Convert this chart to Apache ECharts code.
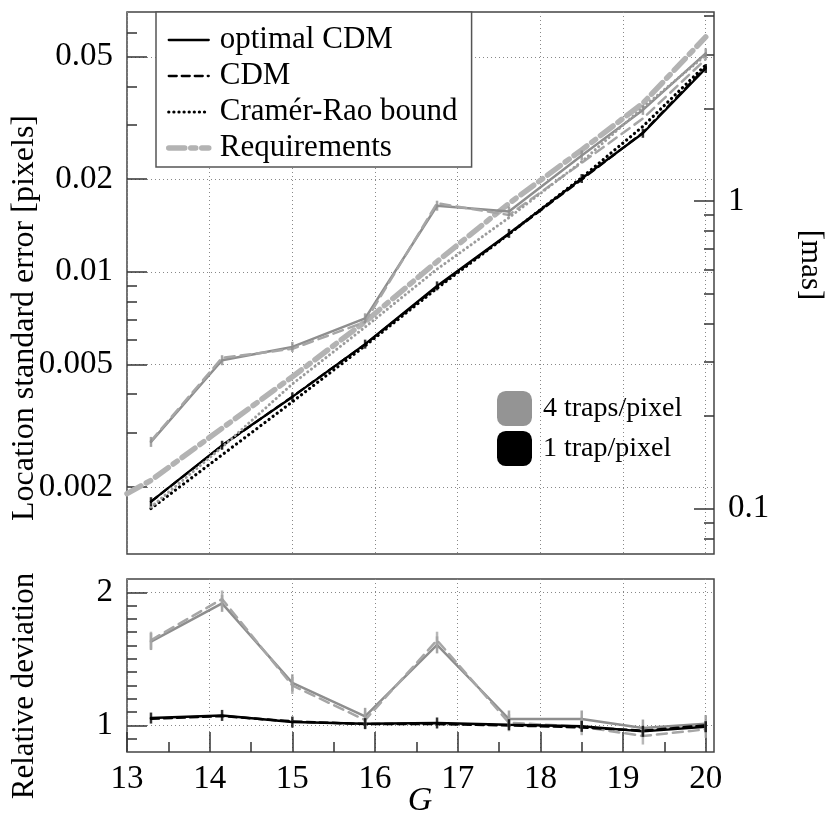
<!DOCTYPE html>
<html>
<head>
<meta charset="utf-8">
<script src="https://cdn.jsdelivr.net/npm/echarts@6/dist/echarts.min.js"></script>
<style>
html, body { margin: 0; padding: 0; background: #fff; }
#main { width: 830px; height: 828px; }
</style>
</head>
<body>
<div id="main"></div>
<script>
// magnitudes G
var G = [13.29, 14.15, 15.0, 15.88, 16.75, 17.62, 18.5, 19.24, 20.0];

// location standard error [pixels], 1 trap/pixel
var optCdm1 = [0.00179, 0.00273, 0.00392, 0.00582, 0.0090, 0.01333, 0.0201, 0.0282, 0.0458];
var cdm1    = [0.00179, 0.00272, 0.00393, 0.00581, 0.00893, 0.01326, 0.01994, 0.02835, 0.04626];
var crb1    = [0.00170, 0.00254, 0.00378, 0.00575, 0.00884, 0.01326, 0.02024, 0.02970, 0.04700];
// 4 traps/pixel
var optCdm4 = [0.0028, 0.00516, 0.0057, 0.00706, 0.0164, 0.0157, 0.0239, 0.0336, 0.0513];
var cdm4    = [0.00282, 0.00525, 0.00562, 0.00687, 0.0167, 0.0153, 0.0226, 0.0315, 0.0491];
var crb4    = [0.00172, 0.00269, 0.00432, 0.00661, 0.0102, 0.0150, 0.0228, 0.0342, 0.0506];
// requirements
var reqG   = [13.0, 13.29, 14.15, 15.0, 15.88, 16.75, 17.62, 18.5, 19.24, 20.0];
var reqVal = [0.0019, 0.0021, 0.0031, 0.00456, 0.00688, 0.0108, 0.01668, 0.0249, 0.0353, 0.058];

// relative deviation
var relOpt4 = [1.63, 1.917, 1.32, 1.068, 1.605, 1.048, 1.048, 0.98, 1.013];
var relCdm4 = [1.64, 1.95, 1.30, 1.04, 1.64, 1.02, 0.99, 0.92, 0.97];
var relOpt1 = [1.055, 1.075, 1.025, 1.013, 1.018, 1.005, 0.993, 0.955, 0.99];
var relCdm1 = [1.05, 1.07, 1.03, 1.01, 1.01, 1.0, 0.985, 0.96, 1.0];

// tick values
var xTicks = [13, 14, 15, 16, 17, 18, 19, 20];
var xMinor = [13.5, 14.5, 15.5, 16.5, 17.5, 18.5, 19.5];
var pxTicks = [0.002, 0.005, 0.01, 0.02, 0.05];
var pxMinor = [0.003, 0.004, 0.006, 0.007, 0.008, 0.009, 0.03, 0.04, 0.06];
var masTicks = [0.1, 1];
var masMinor = [0.08, 0.09, 0.2, 0.3, 0.4, 0.5, 0.6, 0.7, 0.8, 0.9, 2, 3, 4];
var relTicks = [1, 2];
var relMinor = [0.9, 1.1, 1.2, 1.3, 1.4, 1.5, 1.6, 1.7, 1.8, 1.9];

var MAS_PER_PX = 58.9;
var Y_MIN = Math.log10(0.00121), Y_MAX = Math.log10(0.0699);
var FONT = 'Liberation Serif';

function lg(arr) { return arr.map(function (v) { return Math.log10(v); }); }
function pts(xs, ys) { return xs.map(function (x, i) { return [x, ys[i]]; }); }
function fmtLog(v) { return String(+Math.pow(10, v).toPrecision(1)); }
function fmtMas(v) { return String(+(Math.pow(10, v) * MAS_PER_PX).toPrecision(1)); }
function masPos(arr) { return arr.map(function (m) { return Math.log10(m / MAS_PER_PX); }); }

var BLACK = '#000', GREY = '#8e8e8e', GREY_D = '#a6a6a6', GREY_DOT = '#9c9c9c', REQ = '#b3b3b3';
var dotted = [0.1, 5];
var gridLine = { show: true, lineStyle: { color: '#888', width: 1, type: [1, 3] } };
var tickStyle = { color: '#333', width: 1.5 };

function yAx(grid, pos, min, max, ticks, len, labels, fmt, split) {
  return {
    type: 'value', gridIndex: grid, position: pos, min: min, max: max,
    axisLine: { show: false },
    axisTick: { show: true, inside: true, length: len, lineStyle: tickStyle, customValues: ticks },
    axisLabel: labels ? { show: true, customValues: ticks, formatter: fmt, margin: 14,
      fontFamily: FONT, fontSize: 33, color: '#000' } : { show: false },
    splitLine: split ? gridLine : { show: false }
  };
}
function xAx(grid, ticks, len, labels, split, showTick) {
  return {
    type: 'value', gridIndex: grid, position: 'bottom', min: 13, max: 20.1,
    axisLine: { show: false },
    axisTick: { show: showTick, inside: true, length: len, lineStyle: tickStyle, customValues: ticks },
    axisLabel: labels ? { show: true, customValues: ticks, margin: 11,
      fontFamily: FONT, fontSize: 33, color: '#000' } : { show: false },
    splitLine: split ? gridLine : { show: false }
  };
}

function line(name, xi, yi, data, color, width, type) {
  return {
    name: name, type: 'line', xAxisIndex: xi, yAxisIndex: yi, data: data,
    symbol: 'none', lineStyle: { color: color, width: width, type: type, cap: 'round' },
    itemStyle: { color: color }, z: 3
  };
}
function errBars(xi, yi, data, color, h) {
  return {
    name: 'err', type: 'scatter', xAxisIndex: xi, yAxisIndex: yi, data: data,
    symbol: 'rect', symbolSize: [2.5, h], itemStyle: { color: color }, z: 4
  };
}

var chart = echarts.init(document.getElementById('main'), null, { renderer: 'canvas' });
var option = {
  animation: false,
  backgroundColor: '#fff',
  grid: [
    { left: 127, top: 12, width: 587, height: 542, show: true, borderColor: '#444', borderWidth: 1.5, backgroundColor: 'transparent' },
    { left: 127, top: 579, width: 587, height: 173, show: true, borderColor: '#444', borderWidth: 1.5, backgroundColor: 'transparent' }
  ],
  xAxis: [
    xAx(0, xTicks, 0, false, true, false),
    xAx(1, xTicks, 20, true, true, true),
    xAx(1, xMinor, 10, false, false, true)
  ],
  yAxis: [
    yAx(0, 'left', Y_MIN, Y_MAX, lg(pxTicks), 20, true, fmtLog, true),
    yAx(0, 'left', Y_MIN, Y_MAX, lg(pxMinor), 10, false, null, false),
    yAx(0, 'right', Y_MIN, Y_MAX, masPos(masTicks), 20, true, fmtMas, false),
    yAx(0, 'right', Y_MIN, Y_MAX, masPos(masMinor), 10, false, null, false),
    yAx(1, 'left', 0.8, 2.1, relTicks, 20, true, function (v) { return String(v); }, true),
    yAx(1, 'left', 0.8, 2.1, relMinor, 10, false, null, false)
  ],
  legend: [
    {
      orient: 'vertical', left: 156, top: 12,
      data: ['optimal CDM', 'CDM', 'Cramér-Rao bound', 'Requirements'],
      itemWidth: 40, itemHeight: 14, itemGap: 4,
      padding: [12, 14, 3, 10],
      backgroundColor: '#fff', borderColor: '#555', borderWidth: 1.5, borderRadius: 0,
      itemStyle: { opacity: 0 },
      lineStyle: { width: 'inherit' },
      textStyle: { fontFamily: FONT, fontSize: 31, color: '#000', lineHeight: 32, padding: [0, 0, 0, 6] },
      selectedMode: false
    },
    {
      orient: 'vertical', left: 492, top: 386,
      data: ['4 traps/pixel', '1 trap/pixel'],
      icon: 'roundRect', itemWidth: 35, itemHeight: 35, itemGap: 5,
      textStyle: { fontFamily: FONT, fontSize: 28, color: '#000', padding: [0, 0, 0, 6] },
      selectedMode: false
    }
  ],
  graphic: [
    { type: 'text', x: 25, y: 318, rotation: Math.PI / 2,
      style: { text: 'Location standard error [pixels]', fontFamily: FONT, fontSize: 32, fill: '#000', align: 'center', verticalAlign: 'middle' } },
    { type: 'text', x: 25, y: 686, rotation: Math.PI / 2,
      style: { text: 'Relative deviation', fontFamily: FONT, fontSize: 31, fill: '#000', align: 'center', verticalAlign: 'middle' } },
    { type: 'text', x: 810, y: 265, rotation: -Math.PI / 2,
      style: { text: '[mas]', fontFamily: FONT, fontSize: 31, fill: '#000', align: 'center', verticalAlign: 'middle' } },
    { type: 'text', x: 420, y: 801,
      style: { text: 'G', fontFamily: FONT, fontStyle: 'italic', fontSize: 34, fill: '#000', align: 'center', verticalAlign: 'middle' } }
  ],
  series: [
    // top panel
    line('Requirements', 0, 0, pts(reqG, lg(reqVal)), REQ, 5.5, [16, 6, 5, 6]),
    line('optimal CDM', 0, 0, pts(G, lg(optCdm1)), BLACK, 2.3, 'solid'),
    line('CDM', 0, 0, pts(G, lg(cdm1)), BLACK, 2.3, [8, 5]),
    line('Cramér-Rao bound', 0, 0, pts(G, lg(crb1)), BLACK, 3.2, dotted),
    line('optimal CDM 4', 0, 0, pts(G, lg(optCdm4)), GREY, 2.5, 'solid'),
    line('CDM 4', 0, 0, pts(G, lg(cdm4)), GREY_D, 2.5, [10, 6]),
    line('Cramér-Rao bound 4', 0, 0, pts(G, lg(crb4)), GREY_DOT, 3, [0.1, 4.5]),
    errBars(0, 0, pts(G, lg(optCdm4)), GREY, 10),
    errBars(0, 0, pts(G, lg(optCdm1)), BLACK, 9),
    // bottom panel
    line('optimal CDM 4b', 1, 4, pts(G, relOpt4), GREY, 2.5, 'solid'),
    line('CDM 4b', 1, 4, pts(G, relCdm4), GREY_D, 2.5, [10, 6]),
    line('optimal CDM 1b', 1, 4, pts(G, relOpt1), BLACK, 2.5, 'solid'),
    line('CDM 1b', 1, 4, pts(G, relCdm1), BLACK, 2.5, [8, 5]),
    errBars(1, 4, pts(G, relOpt4), GREY, 17),
    errBars(1, 4, pts(G, relCdm4), GREY_D, 17),
    errBars(1, 4, pts(G, relOpt1), BLACK, 11),
    // legend swatches
    { name: '4 traps/pixel', type: 'line', xAxisIndex: 0, yAxisIndex: 0, data: [], symbol: 'roundRect', itemStyle: { color: '#949494' } },
    { name: '1 trap/pixel', type: 'line', xAxisIndex: 0, yAxisIndex: 0, data: [], symbol: 'roundRect', itemStyle: { color: '#000' } }
  ]
};
chart.setOption(option);
</script>
</body>
</html>
